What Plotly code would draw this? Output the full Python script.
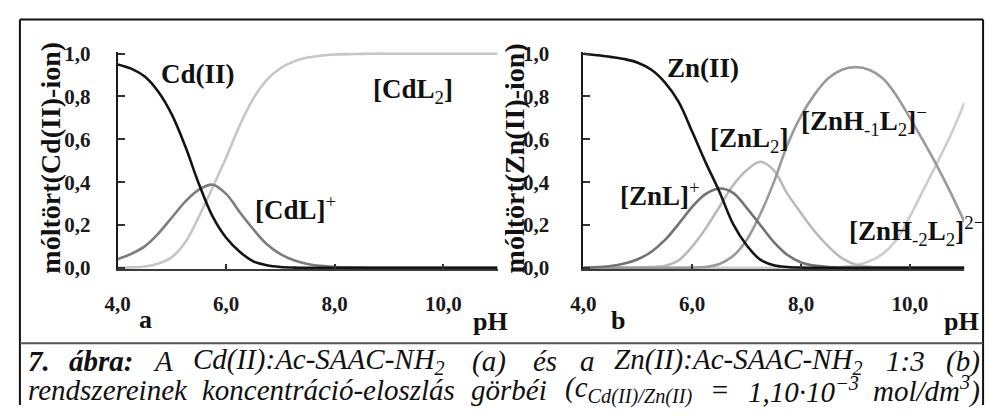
import plotly.graph_objects as go

W, H = 989, 416
FAMILY = "'Liberation Serif', 'Times New Roman', Times, serif"

# ---------------- data ----------------
ph = [4.0, 4.25, 4.5, 4.75, 5.0, 5.25, 5.5, 5.75, 6.0, 6.25, 6.5, 6.75, 7.0, 7.25,
      7.5, 7.75, 8.0, 8.25, 8.5, 8.75, 9.0, 9.25, 9.5, 9.75, 10.0, 10.25, 10.5,
      10.75, 11.0]

# panel a: Cd(II) system
cd_free = [0.95, 0.93, 0.893, 0.822, 0.715, 0.565, 0.39, 0.24, 0.14, 0.075, 0.03,
           0.012, 0.004, 0.001, 0, 0, 0, 0, 0, 0, 0, 0, 0, 0, 0, 0, 0, 0, 0]
cd_L = [0.04, 0.065, 0.1, 0.16, 0.235, 0.31, 0.365, 0.388, 0.345, 0.26, 0.18,
        0.11, 0.064, 0.035, 0.018, 0.009, 0.004, 0.002, 0.001, 0, 0, 0, 0, 0, 0,
        0, 0, 0, 0]
cd_L2 = [0.0, 0.002, 0.006, 0.02, 0.05, 0.12, 0.24, 0.375, 0.515, 0.665, 0.79,
         0.878, 0.932, 0.964, 0.982, 0.991, 0.996, 0.998, 0.999, 1.0, 1.0, 1.0,
         1.0, 1.0, 1.0, 1.0, 1.0, 1.0, 1.0]

# panel b: Zn(II) system
zn_free = [1.0, 0.993, 0.985, 0.975, 0.958, 0.925, 0.865, 0.775, 0.635, 0.49, 0.355,
           0.205, 0.105, 0.038, 0.012, 0.004, 0.001, 0, 0, 0, 0, 0, 0, 0, 0, 0, 0,
           0, 0]
zn_L = [0.0, 0.003, 0.008, 0.02, 0.04, 0.075, 0.13, 0.205, 0.285, 0.345, 0.37,
        0.35, 0.28, 0.2, 0.12, 0.06, 0.025, 0.01, 0.004, 0.001, 0, 0, 0, 0, 0, 0,
        0, 0, 0]
zn_L2 = [0, 0, 0, 0, 0.001, 0.003, 0.01, 0.035, 0.1, 0.185, 0.285, 0.385, 0.455,
         0.495, 0.455, 0.345, 0.255, 0.17, 0.1, 0.045, 0.015, 0.005, 0.001, 0, 0,
         0, 0, 0, 0]
zn_H1L2 = [0, 0, 0, 0, 0, 0, 0, 0, 0.001, 0.004, 0.018, 0.055, 0.13, 0.25, 0.4,
           0.575, 0.71, 0.81, 0.885, 0.925, 0.937, 0.925, 0.885, 0.805, 0.7, 0.59,
           0.475, 0.35, 0.215]
zn_H2L2 = [0, 0, 0, 0, 0, 0, 0, 0, 0, 0, 0, 0, 0, 0, 0, 0, 0, 0, 0.001, 0.004,
           0.012, 0.03, 0.065, 0.13, 0.24, 0.365, 0.49, 0.62, 0.77]

x_ticks = [4, 6, 8, 10]
y_ticks = [0, 0.2, 0.4, 0.6, 0.8, 1.0]

# ---------------- figure ----------------
fig = go.Figure()

left_series = [
    (cd_L2, "#c6c6c6"),
    (cd_L, "#7d7d7d"),
    (cd_free, "#141414"),
]
right_series = [
    (zn_H2L2, "#cdcdcd"),
    (zn_L2, "#bababa"),
    (zn_H1L2, "#9a9a9a"),
    (zn_L, "#737373"),
    (zn_free, "#141414"),
]

for ys, col in left_series:
    fig.add_trace(go.Scatter(x=ph, y=ys, mode="lines", xaxis="x", yaxis="y",
                             line=dict(color=col, width=2.6, shape="spline", smoothing=1.0),
                             hoverinfo="skip", showlegend=False))
for ys, col in right_series:
    fig.add_trace(go.Scatter(x=ph, y=ys, mode="lines", xaxis="x2", yaxis="y2",
                             line=dict(color=col, width=2.6, shape="spline", smoothing=1.0),
                             hoverinfo="skip", showlegend=False))

def px(v):
    return v / W

def py(v):
    return 1 - v / H

tick_font = dict(family=FAMILY, size=21, color="#1a1a1a", weight="bold")

def xaxis(domain, anchor):
    return dict(domain=domain, range=[4, 11], tickvals=x_ticks, tickformat=".1f",
                anchor=anchor,
                ticks="inside", ticklen=5, tickwidth=1.5, tickcolor="#333",
                showline=True, linecolor="#3a3a3a", linewidth=2,
                showgrid=False, zeroline=False, tickfont=tick_font,
                ticklabelstandoff=15, fixedrange=True)

def yaxis(anchor, standoff):
    return dict(domain=[py(272.85), py(44.2)], range=[-0.006, 1.008],
                tickvals=y_ticks, tickformat=".1f", anchor=anchor,
                ticks="inside", ticklen=7, tickwidth=1.5, tickcolor="#333",
                showline=True, linecolor="#1a1a1a", linewidth=2,
                showgrid=False, zeroline=False, tickfont=tick_font,
                ticklabelstandoff=standoff, fixedrange=True)

annotations = []

def add(text, x, y, size=27, angle=0, xanchor="center", yanchor="middle"):
    annotations.append(dict(text=text, x=px(x), y=py(y), xref="paper", yref="paper",
                            showarrow=False, xanchor=xanchor, yanchor=yanchor,
                            textangle=angle,
                            font=dict(family=FAMILY, size=size, color="#111")))

# curve labels
add("<b>Cd(II)</b>", 187, 67)
add("<b>[CdL</b><sub>2</sub><b>]</b>", 405, 85)
add("<b>[CdL]</b><sup>+</sup>", 286, 208)
add("<b>Zn(II)</b>", 699, 61)
add("<b>[ZnL</b><sub>2</sub><b>]</b>", 746, 137)
add("<b>[ZnL]</b><sup>+</sup>", 656, 194)
add("<b>[ZnH</b><sub>-1</sub><b>L</b><sub>2</sub><b>]</b><sup>−</sup>", 862, 117)
add("<b>[ZnH</b><sub>-2</sub><b>L</b><sub>2</sub><b>]</b><sup>2−</sup>", 916, 233)

# axis titles
add("<b>móltört(Cd(II)-ion)</b>", 38, 156, size=28, angle=-90)
add("<b>móltört(Zn(II)-ion)</b>", 508, 156, size=28, angle=-90)

# panel letters and pH
add("<b>a</b>", 134, 326, size=26)
add("<b>pH</b>", 484, 328, size=26)
add("<b>b</b>", 613, 327, size=26)
add("<b>pH</b>", 961, 328, size=26)

# caption (justified: words placed along the line)
CAP = 29
add("<b><i>7.</i></b>", 13, 370, size=CAP, xanchor="left")
line1 = [
    ("<b><i>ábra:</i></b>", 89),
    ("<i>A</i>", 152),
    ("<i>Cd(II):Ac-SAAC-NH<sub>2</sub></i>", 310),
    ("<i>(a)</i>", 482),
    ("<i>és</i>", 539),
    ("<i>a</i>", 582),
    ("<i>Zn(II):Ac-SAAC-NH<sub>2</sub></i>", 735),
    ("<i>1:3</i>", 904),
]
for t, x in line1:
    add(t, x, 370, size=CAP)
add("<i>(b)</i>", 982, 370, size=CAP, xanchor="right")

add("<i>rendszereinek</i>", 13, 400, size=CAP, xanchor="left")
line2 = [
    ("<i>koncentráció-eloszlás</i>", 320),
    ("<i>görbéi</i>", 503),
    ("<i>(c<sub>Cd(II)/Zn(II)</sub></i>", 624),
    ("<i>=</i>", 716),
    ("<i>1,10·10<sup>−3</sup></i>", 801),
]
for t, x in line2:
    add(t, x, 400, size=CAP)
add("<i>mol/dm<sup>3</sup>)</i>", 982, 400, size=CAP, xanchor="right")

shapes = []
def seg(x0, y0, x1, y1, color="#111", width=2):
    shapes.append(dict(type="line", xref="paper", yref="paper",
                       x0=px(x0), y0=py(y0), x1=px(x1), y1=py(y1),
                       line=dict(color=color, width=width)))

seg(7, 10, 983, 10)
seg(7, 10, 7, 416)
seg(983, 10, 983, 416)
seg(7, 351, 983, 351, color="#555")

fig.update_layout(
    width=W, height=H,
    margin=dict(l=0, r=0, t=0, b=0),
    paper_bgcolor="white", plot_bgcolor="white",
    separators=", ",
    showlegend=False,
    font=dict(family=FAMILY),
    xaxis=xaxis([px(106), px(491)], "y"),
    yaxis=yaxis("x", 21),
    xaxis2=xaxis([px(578), px(964)], "y2"),
    yaxis2=yaxis("x2", 28),
    annotations=annotations,
    shapes=shapes,
)

fig.write_html(
    "out.html",
    config={"displayModeBar": False},
    post_script="document.body.style.margin='0px';document.body.style.padding='0px';",
)
